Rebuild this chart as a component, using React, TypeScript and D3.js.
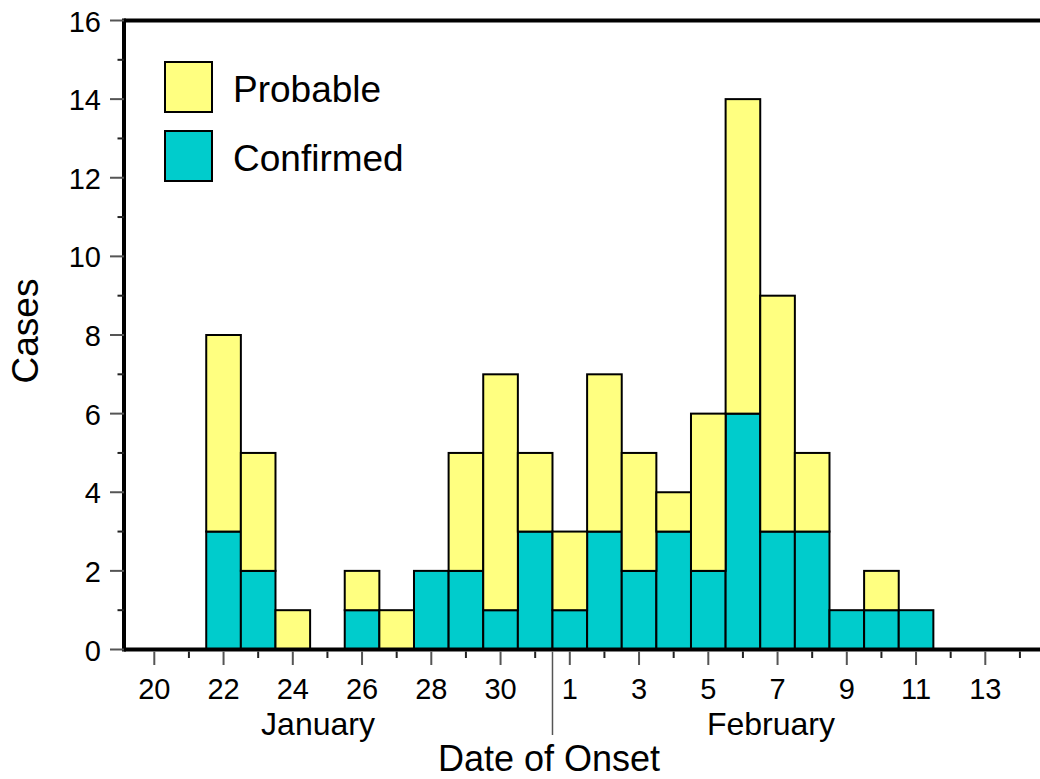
import React from "react";
import * as d3 from "d3";

// onset dates (one bar per day), stacked: confirmed at bottom, probable on top
const onsetDates = [
  "2003-01-22", "2003-01-23", "2003-01-24", "2003-01-25", "2003-01-26", "2003-01-27",
  "2003-01-28", "2003-01-29", "2003-01-30", "2003-01-31", "2003-02-01", "2003-02-02",
  "2003-02-03", "2003-02-04", "2003-02-05", "2003-02-06", "2003-02-07", "2003-02-08",
  "2003-02-09", "2003-02-10", "2003-02-11",
];
const confirmed = [3, 2, 0, 0, 1, 0, 2, 2, 1, 3, 1, 3, 2, 3, 2, 6, 3, 3, 1, 1, 1];
const probable = [5, 3, 1, 0, 1, 1, 0, 3, 6, 2, 2, 4, 3, 1, 4, 8, 6, 2, 0, 1, 0];

const seriesKeys = ["confirmed", "probable"];
const seriesLabels = ["Confirmed", "Probable"];
const yTicks = [0, 2, 4, 6, 8, 10, 12, 14, 16];
const xTickDays = [
  "2003-01-20", "2003-01-22", "2003-01-24", "2003-01-26", "2003-01-28", "2003-01-30",
  "2003-02-01", "2003-02-03", "2003-02-05", "2003-02-07", "2003-02-09", "2003-02-11",
  "2003-02-13",
];
const monthLabels = ["January", "February"];

const COLORS: Record<string, string> = { confirmed: "#00CCCC", probable: "#FFFF80" };
const FONT = "'Liberation Sans', Arial, Helvetica, sans-serif";

const W = 1040;
const H = 779;

const parse = d3.utcParse("%Y-%m-%d");
const start = parse("2003-01-20") as Date;
const dayOf = (s: string) => d3.utcDay.count(start, parse(s) as Date);

export default function App() {
  const axisLeft = 124;
  const axisTop = 20.5;
  const axisBottom = 649.5;

  const x = d3.scaleLinear().domain([0, 24]).range([154.3, 985.3]);
  const dayW = x(1) - x(0);
  const y = d3.scaleLinear().domain([0, 16]).range([axisBottom, axisTop]);

  const rows = onsetDates.map((d, i) => ({
    day: dayOf(d),
    confirmed: confirmed[i],
    probable: probable[i],
  }));
  const stacked = d3.stack<any>().keys(seriesKeys)(rows);

  const allDays = d3.range(0, 26);
  const labeled = new Set(xTickDays.map(dayOf));
  const yMinor = d3.range(1, 16, 2);
  const sepX = (x(dayOf("2003-01-31")) + x(dayOf("2003-02-01"))) / 2;

  return (
    <svg
      width={W}
      height={H}
      style={{ position: "absolute", left: 0, top: 0, background: "#fff" }}
      fontFamily={FONT}
    >
      {/* bars */}
      {stacked.map((s) =>
        s.map((d: any, i: number) =>
          d[1] - d[0] > 0 ? (
            <rect
              key={s.key + i}
              x={x(d.data.day) - dayW / 2}
              y={y(d[1])}
              width={dayW}
              height={y(d[0]) - y(d[1])}
              fill={COLORS[s.key]}
              stroke="#000"
              strokeWidth={2}
            />
          ) : null
        )
      )}

      {/* frame */}
      <line x1={axisLeft} x2={W + 5} y1={axisTop} y2={axisTop} stroke="#000" strokeWidth={4} />
      <line x1={axisLeft} x2={axisLeft} y1={axisTop - 2} y2={axisBottom + 2} stroke="#000" strokeWidth={4} />
      <line x1={axisLeft} x2={W + 5} y1={axisBottom} y2={axisBottom} stroke="#000" strokeWidth={4} />

      {/* y ticks */}
      {yTicks.map((t) => (
        <g key={"y" + t}>
          <line x1={110} x2={axisLeft} y1={y(t)} y2={y(t)} stroke="#555" strokeWidth={2} />
          <text x={101} y={y(t) + 11} textAnchor="end" fontSize={29}>
            {t}
          </text>
        </g>
      ))}
      {yMinor.map((t) => (
        <line key={"ym" + t} x1={117.5} x2={axisLeft} y1={y(t)} y2={y(t)} stroke="#222" strokeWidth={2} />
      ))}

      {/* x ticks */}
      {allDays.map((d) => (
        <line
          key={"x" + d}
          x1={x(d)}
          x2={x(d)}
          y1={axisBottom + 2}
          y2={labeled.has(d) ? 665 : 658}
          stroke={labeled.has(d) ? "#555" : "#222"}
          strokeWidth={2}
        />
      ))}
      {xTickDays.map((s) => (
        <text key={"xl" + s} x={x(dayOf(s))} y={699} textAnchor="middle" fontSize={29}>
          {(parse(s) as Date).getUTCDate()}
        </text>
      ))}

      {/* month separator and labels */}
      <line x1={sepX} x2={sepX} y1={axisBottom + 2} y2={735} stroke="#555" strokeWidth={1.5} />
      {monthLabels.map((m, i) => (
        <text key={m} x={i === 0 ? 318 : 771} y={735} textAnchor="middle" fontSize={32}>
          {m}
        </text>
      ))}

      {/* axis titles */}
      <text x={549} y={771} textAnchor="middle" fontSize={36}>
        Date of Onset
      </text>
      <text transform="translate(38,331) rotate(-90)" textAnchor="middle" fontSize={37}>
        Cases
      </text>

      {/* legend */}
      {[...seriesKeys].reverse().map((k, i) => (
        <g key={"lg" + k} transform={`translate(165,${62 + i * 69})`}>
          <rect x={0} y={0} width={47} height={50} fill={COLORS[k]} stroke="#000" strokeWidth={2} />
          <text x={68} y={40} fontSize={37}>
            {seriesLabels[seriesKeys.indexOf(k)]}
          </text>
        </g>
      ))}
    </svg>
  );
}
